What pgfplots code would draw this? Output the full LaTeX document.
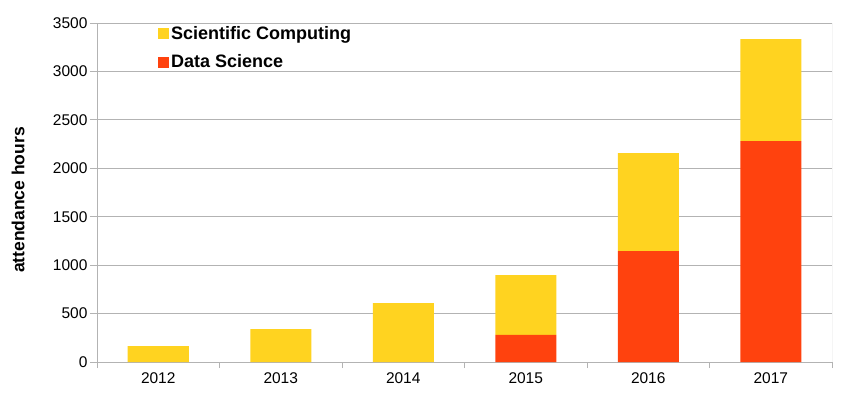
\documentclass[border=0pt]{standalone}
\usepackage{pgfplots}
\pgfplotsset{compat=1.18}
\usepackage{fontspec}
\setmainfont{Liberation Sans}
\definecolor{scyellow}{HTML}{FFD320}
\definecolor{dsred}{HTML}{FF420E}
\definecolor{gridgray}{HTML}{B3B3B3}
\begin{document}
\begin{tikzpicture}
  \path[use as bounding box] (-97pt,-46pt) rectangle (767pt,362pt);
  \begin{axis}[
      at={(0pt,0pt)}, anchor=south west,
      scale only axis,
      width=735pt, height=339pt,
      ybar stacked,
      bar width=61pt,
      xmin=-0.5, xmax=5.5,
      ymin=0, ymax=3500,
      xtick={0,1,2,3,4,5},
      xticklabels={2012,2013,2014,2015,2016,2017},
      minor xtick={-0.5,0.5,1.5,2.5,3.5,4.5,5.5},
      major x tick style={draw=none},
      minor tick length=6pt,
      major tick length=7pt,
      tick align=outside,
      ytick={0,500,...,3500},
      ymajorgrids=true,
      grid style={gridgray, line width=0.8pt},
      axis line style={gridgray, line width=0.8pt},
      every tick/.style={gridgray, line width=0.8pt},
      axis x line*=bottom,
      axis y line*=left,
      tick label style={font=\fontsize{15.5}{18}\selectfont, text=black},
      /pgf/number format/assume math mode=true,
      /pgf/number format/1000 sep={},
      yticklabel style={xshift=1pt},
      every axis y label/.style={at={(-79pt,162pt)}, rotate=90, anchor=center},
      ylabel={\textbf{attendance hours}},
      ylabel style={font=\fontsize{17.5}{20}\selectfont},
      legend style={at={(58pt,340pt)}, anchor=north west, draw=none, fill=none,
        font=\fontsize{18}{20}\selectfont\bfseries, row sep=10pt,
        legend cell align=left},
      legend image code/.code={\fill[#1] (0pt,-5.5pt) rectangle (11pt,5.5pt);},
      reverse legend,
    ]
    \addplot[draw=none, fill=dsred] coordinates {
      (0,0) (1,0) (2,0) (3,279) (4,1146) (5,2281)
    };
    \addlegendentry{Data Science}
    \addplot[draw=none, fill=scyellow] coordinates {
      (0,165) (1,340) (2,609) (3,619) (4,1011) (5,1053)
    };
    \addlegendentry{Scientific Computing}
    \draw[gridgray, line width=0.8pt] (rel axis cs:1,0) -- (rel axis cs:1,1);
  \end{axis}
\end{tikzpicture}
\end{document}
